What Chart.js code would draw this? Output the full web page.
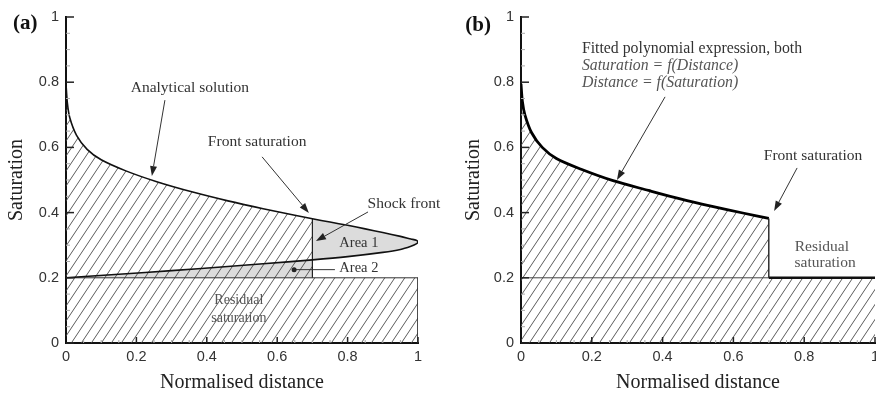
<!DOCTYPE html>
<html>
<head>
<meta charset="utf-8">
<script src="https://cdn.jsdelivr.net/npm/chart.js@4.4.0/dist/chart.umd.min.js"></script>
<style>
  body { margin: 0; background: #fff; width: 876px; height: 393px; overflow: hidden; position: relative; }
  canvas { position: absolute; top: 0; }
  #chartA { left: 0; }
  #chartB { left: 438px; }
</style>
</head>
<body>
<canvas id="chartA" width="460" height="393"></canvas>
<canvas id="chartB" width="438" height="393"></canvas>
<script>
// (a) analytical solution, upper branch (distance, saturation), from x = 0 out to the tip
const upperX = [0, 0.004, 0.011, 0.03, 0.06, 0.1, 0.17, 0.26, 0.36, 0.46, 0.56, 0.65, 0.7, 0.75, 0.8, 0.85, 0.9, 0.95, 0.98, 0.995, 1.0];
const upperS = [0.795, 0.735, 0.69, 0.637, 0.594, 0.562, 0.528, 0.494, 0.463, 0.436, 0.412, 0.392, 0.381, 0.371, 0.361, 0.35, 0.339, 0.327, 0.319, 0.315, 0.31];
// (a) lower branch, from x = 0 out to the tip
const lowerX = [0, 0.15, 0.3, 0.45, 0.56, 0.7, 0.8, 0.9, 0.95, 0.98, 0.995, 1.0];
const lowerS = [0.2, 0.211, 0.222, 0.234, 0.243, 0.255, 0.265, 0.278, 0.287, 0.297, 0.304, 0.31];

// (b) fitted polynomial curve
const fitX = [0, 0.004, 0.011, 0.03, 0.06, 0.1, 0.17, 0.26, 0.36, 0.45, 0.54, 0.63, 0.7];
const fitS = [0.795, 0.74, 0.7, 0.645, 0.6, 0.566, 0.533, 0.498, 0.468, 0.442, 0.419, 0.398, 0.382];

const residualS = 0.2;
const frontX = 0.7;
const frontSa = upperS[upperX.indexOf(frontX)];
const frontSb = fitS[fitX.indexOf(frontX)];

const axisTicks = [0, 0.2, 0.4, 0.6, 0.8, 1];

const pts = (xs, ys) => xs.map((x, i) => ({ x: x, y: ys[i] }));

function hatch(canvasId) {
  const c = document.createElement('canvas');
  c.width = 10; c.height = 15;
  const g = c.getContext('2d');
  g.strokeStyle = '#4a4a4a';
  g.lineWidth = 0.9;
  g.beginPath();
  g.moveTo(0, 15); g.lineTo(10, 0);
  g.moveTo(-10, 15); g.lineTo(0, 0);
  g.moveTo(10, 15); g.lineTo(20, 0);
  g.stroke();
  return document.getElementById(canvasId).getContext('2d').createPattern(c, 'repeat');
}

// inward tick marks like the original figure
const innerTicks = {
  id: 'innerTicks',
  afterDraw(chart) {
    const { ctx, chartArea, scales: { x, y } } = chart;
    ctx.save();
    for (let i = 0; i <= 20; i++) {
      const v = i / 20;
      const major = i % 4 === 0;
      ctx.strokeStyle = major ? '#222' : '#aaa';
      ctx.lineWidth = major ? 1.5 : 1;
      const py = y.getPixelForValue(v);
      ctx.beginPath();
      ctx.moveTo(chartArea.left, py);
      ctx.lineTo(chartArea.left + (major ? 8 : 4), py);
      ctx.stroke();
      if (i > 0) {
        const px = x.getPixelForValue(v);
        ctx.beginPath();
        ctx.moveTo(px, chartArea.bottom);
        ctx.lineTo(px, chartArea.bottom - (major ? 6 : 3));
        ctx.stroke();
      }
    }
    ctx.restore();
  }
};

function notes(items) {
  return {
    id: 'notes',
    afterDraw(chart) {
      const { ctx, scales: { x, y } } = chart;
      ctx.save();
      items.forEach(n => {
        if (n.text) {
          ctx.font = n.font || '15.5px "Liberation Serif"';
          ctx.fillStyle = n.color || '#333';
          ctx.textAlign = n.align || 'center';
          ctx.textBaseline = 'middle';
          ctx.fillText(n.text, x.getPixelForValue(n.at[0]), y.getPixelForValue(n.at[1]));
        } else if (n.arrow) {
          const x0 = x.getPixelForValue(n.from[0]), y0 = y.getPixelForValue(n.from[1]);
          const x1 = x.getPixelForValue(n.to[0]), y1 = y.getPixelForValue(n.to[1]);
          const a = Math.atan2(y1 - y0, x1 - x0);
          const hl = 10, hw = 3.5;
          ctx.strokeStyle = '#333';
          ctx.fillStyle = '#222';
          ctx.lineWidth = 1;
          ctx.beginPath();
          ctx.moveTo(x0, y0);
          ctx.lineTo(x1 - hl * Math.cos(a), y1 - hl * Math.sin(a));
          ctx.stroke();
          ctx.beginPath();
          ctx.moveTo(x1, y1);
          ctx.lineTo(x1 - hl * Math.cos(a) + hw * Math.sin(a), y1 - hl * Math.sin(a) - hw * Math.cos(a));
          ctx.lineTo(x1 - hl * Math.cos(a) - hw * Math.sin(a), y1 - hl * Math.sin(a) + hw * Math.cos(a));
          ctx.closePath();
          ctx.fill();
        } else if (n.line) {
          ctx.strokeStyle = '#333';
          ctx.lineWidth = 1;
          ctx.beginPath();
          ctx.moveTo(x.getPixelForValue(n.from[0]), y.getPixelForValue(n.from[1]));
          ctx.lineTo(x.getPixelForValue(n.to[0]), y.getPixelForValue(n.to[1]));
          ctx.stroke();
        } else if (n.dot) {
          ctx.fillStyle = '#222';
          ctx.beginPath();
          ctx.arc(x.getPixelForValue(n.at[0]), y.getPixelForValue(n.at[1]), 2.5, 0, Math.PI * 2);
          ctx.fill();
        }
      });
      ctx.restore();
    }
  };
}

const tickText = v => String(+v.toFixed(1));

function scaleOptions(yWidth, titlePad) {
  return {
    x: {
      type: 'linear', min: 0, max: 1,
      afterBuildTicks: s => { s.ticks = axisTicks.map(v => ({ value: v })); },
      afterFit: s => { s.height = 50; s.paddingLeft = 0; s.paddingRight = 0; },
      grid: { display: true, drawOnChartArea: false, drawTicks: false },
      border: { display: true, color: '#111', width: 2 },
      ticks: { color: '#333', padding: 5, maxRotation: 0, autoSkip: false, callback: tickText,
               font: { family: 'Liberation Sans', size: 14.5 } },
      title: { display: true, text: 'Normalised distance', color: '#222', padding: { top: 0, bottom: 0 },
               font: { family: 'Liberation Serif', size: 20, lineHeight: 1 } }
    },
    y: {
      type: 'linear', min: 0, max: 1,
      afterBuildTicks: s => { s.ticks = axisTicks.map(v => ({ value: v })); },
      afterFit: s => { s.width = yWidth; s.paddingTop = 0; s.paddingBottom = 0; },
      grid: { display: true, drawOnChartArea: false, drawTicks: false },
      border: { display: true, color: '#111', width: 2 },
      ticks: { color: '#333', padding: 7, autoSkip: false, callback: tickText,
               font: { family: 'Liberation Sans', size: 14.5 } },
      title: { display: true, text: 'Saturation', color: '#222', padding: { top: titlePad, bottom: 0 },
               font: { family: 'Liberation Serif', size: 20, lineHeight: 1 } }
    }
  };
}

function line(data, opts) {
  return Object.assign({
    data: data, pointRadius: 0, fill: false, tension: 0,
    borderColor: 'transparent', borderWidth: 0, backgroundColor: 'transparent'
  }, opts);
}

// ---- panel (a) ----
const hatchA = hatch('chartA');
const grey = '#dcdcdc';
const upperPts = pts(upperX, upperS);
const lowerPts = pts(lowerX, lowerS);
const loopPts = lowerPts.concat(upperPts.slice(0, -1).reverse());
const area1Pts = upperPts.filter(p => p.x >= frontX).concat(lowerPts.filter(p => p.x >= frontX).reverse().slice(1));

new Chart(document.getElementById('chartA'), {
  type: 'line',
  data: {
    datasets: [
      line(loopPts, { borderColor: '#111', borderWidth: 1.6, tension: 0.3, order: 0 }),
      line([{ x: frontX, y: residualS }, { x: frontX, y: frontSa }], { borderColor: '#222', borderWidth: 1.2, order: 1 }),
      line([{ x: 0, y: residualS }, { x: 1, y: residualS }, { x: 1, y: 0 }],
        { borderColor: '#333', borderWidth: 1, fill: 'origin', backgroundColor: hatchA, order: 2 }),
      line(upperPts.filter(p => p.x <= frontX), { fill: { value: residualS }, backgroundColor: hatchA, tension: 0.3, order: 3 }),
      line(area1Pts, { fill: 'shape', backgroundColor: grey, tension: 0.3, order: 4 }),
      line(lowerPts.filter(p => p.x <= frontX), { fill: { value: residualS }, backgroundColor: grey, tension: 0.3, order: 5 })
    ]
  },
  options: {
    responsive: false,
    animation: false,
    layout: { padding: { left: 0, top: 17, right: 42, bottom: 0 } },
    plugins: { legend: { display: false }, tooltip: { enabled: false } },
    scales: scaleOptions(66, 7)
  },
  plugins: [innerTicks, notes([
    { text: '(a)', at: [-0.116, 0.979], font: 'bold 21px "Liberation Serif"', color: '#111' },
    { text: 'Analytical solution', at: [0.352, 0.782] },
    { arrow: true, from: [0.281, 0.745], to: [0.244, 0.512] },
    { text: 'Front saturation', at: [0.543, 0.617] },
    { arrow: true, from: [0.557, 0.571], to: [0.69, 0.399] },
    { text: 'Shock front', at: [0.96, 0.426] },
    { arrow: true, from: [0.858, 0.402], to: [0.71, 0.313] },
    { text: 'Area 1', at: [0.832, 0.307], font: '14.5px "Liberation Serif"' },
    { text: 'Area 2', at: [0.832, 0.23], font: '14.5px "Liberation Serif"' },
    { line: true, from: [0.648, 0.225], to: [0.764, 0.225] },
    { dot: true, at: [0.648, 0.225] },
    { text: 'Residual', at: [0.491, 0.132], font: '14px "Liberation Serif"', color: '#555' },
    { text: 'saturation', at: [0.491, 0.077], font: '14px "Liberation Serif"', color: '#555' }
  ])]
});

// ---- panel (b) ----
const hatchB = hatch('chartB');
const fitPts = pts(fitX, fitS);

new Chart(document.getElementById('chartB'), {
  type: 'line',
  data: {
    datasets: [
      line(fitPts, { borderColor: '#000', borderWidth: 2.8, tension: 0.3, order: 0 }),
      line([{ x: frontX, y: frontSb }, { x: frontX, y: residualS }], { borderColor: '#222', borderWidth: 1.4, order: 1 }),
      line([{ x: frontX, y: residualS }, { x: 1, y: residualS }], { borderColor: '#111', borderWidth: 2.6, order: 1 }),
      line([{ x: 0, y: residualS }, { x: frontX, y: residualS }], { borderColor: '#444', borderWidth: 1, order: 2 }),
      line(fitPts, { fill: 'origin', backgroundColor: hatchB, tension: 0.3, order: 3 }),
      line([{ x: frontX, y: residualS }, { x: 1, y: residualS }], { fill: 'origin', backgroundColor: hatchB, order: 3 })
    ]
  },
  options: {
    responsive: false,
    animation: false,
    layout: { padding: { left: 18, top: 17, right: 1, bottom: 0 } },
    plugins: { legend: { display: false }, tooltip: { enabled: false } },
    scales: scaleOptions(65, 8)
  },
  plugins: [innerTicks, notes([
    { text: '(b)', at: [-0.121, 0.975], font: 'bold 21px "Liberation Serif"', color: '#111' },
    { text: 'Fitted polynomial expression, both', at: [0.172, 0.902], align: 'left', font: '15.8px "Liberation Serif"' },
    { text: 'Saturation = f(Distance)', at: [0.172, 0.85], align: 'left', font: 'italic 15.8px "Liberation Serif"', color: '#555' },
    { text: 'Distance = f(Saturation)', at: [0.172, 0.798], align: 'left', font: 'italic 15.8px "Liberation Serif"', color: '#555' },
    { arrow: true, from: [0.407, 0.755], to: [0.271, 0.5] },
    { text: 'Front saturation', at: [0.825, 0.574] },
    { arrow: true, from: [0.78, 0.537], to: [0.715, 0.405] },
    { text: 'Residual', at: [0.85, 0.294], color: '#555' },
    { text: 'saturation', at: [0.859, 0.245], color: '#555' }
  ])]
});
</script>
</body>
</html>
